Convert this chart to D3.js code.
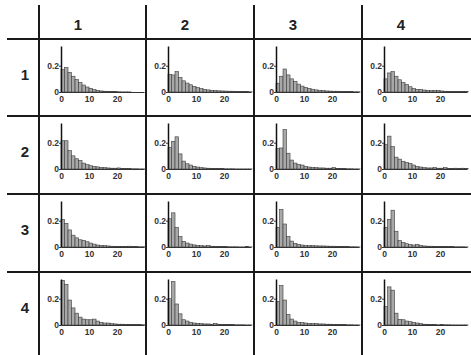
<!DOCTYPE html>
<html>
<head>
<meta charset="utf-8">
<script src="https://cdn.jsdelivr.net/npm/d3@7"></script>
<style>
  html, body { margin: 0; padding: 0; background: #fff; }
  svg { display: block; }
</style>
</head>
<body>
<svg id="chart" width="471" height="355"></svg>
<script>
// labels and ticks
const colLabels = ["1", "2", "3", "4"];
const rowLabels = ["1", "2", "3", "4"];
const xTicks = [0, 10, 20];
const yTicks = [0, 0.2];
const binWidth = 1.25;

// relative frequencies per bin (row r, column c)
const h11 = [0.17, 0.185, 0.15, 0.12, 0.095, 0.072, 0.053, 0.038, 0.028, 0.018, 0.012, 0.008, 0.006, 0.004, 0.003, 0.003, 0.002, 0.001, 0.001, 0.001, 0, 0, 0, 0];
const h12 = [0.135, 0.13, 0.155, 0.11, 0.085, 0.068, 0.055, 0.042, 0.033, 0.026, 0.02, 0.016, 0.013, 0.011, 0.009, 0.008, 0.007, 0.006, 0.006, 0.005, 0.004, 0.003, 0.003, 0.002];
const h13 = [0.067, 0.12, 0.175, 0.13, 0.1, 0.08, 0.06, 0.045, 0.035, 0.027, 0.021, 0.016, 0.012, 0.01, 0.008, 0.007, 0.006, 0.006, 0.005, 0.004, 0.003, 0.003, 0.002, 0.002];
const h14 = [0.1, 0.145, 0.155, 0.12, 0.093, 0.072, 0.058, 0.04, 0.027, 0.02, 0.018, 0.015, 0.012, 0.01, 0.01, 0.012, 0.008, 0.006, 0.005, 0.005, 0.004, 0.004, 0.005, 0.003];
const h21 = [0.215, 0.215, 0.14, 0.1, 0.078, 0.065, 0.045, 0.033, 0.025, 0.02, 0.016, 0.012, 0.01, 0.008, 0.006, 0.006, 0.008, 0.004, 0.003, 0.003, 0.002, 0.002, 0.001, 0.001];
const h22 = [0.165, 0.21, 0.245, 0.115, 0.06, 0.04, 0.03, 0.02, 0.015, 0.01, 0.008, 0.006, 0.005, 0.004, 0.003, 0.003, 0.002, 0.002, 0.002, 0.001, 0.001, 0.001, 0.001, 0.001];
const h23 = [0.155, 0.16, 0.30, 0.12, 0.068, 0.045, 0.035, 0.03, 0.02, 0.015, 0.012, 0.01, 0.008, 0.008, 0.006, 0.006, 0.01, 0.005, 0.003, 0.003, 0.002, 0.002, 0.001, 0.001];
const h24 = [0.185, 0.25, 0.17, 0.09, 0.075, 0.058, 0.05, 0.042, 0.03, 0.02, 0.015, 0.01, 0.008, 0.008, 0.01, 0.006, 0.006, 0.01, 0.005, 0.004, 0.006, 0.004, 0.006, 0.004];
const h31 = [0.21, 0.18, 0.13, 0.09, 0.07, 0.055, 0.05, 0.04, 0.03, 0.022, 0.015, 0.012, 0.01, 0.008, 0.006, 0.005, 0.005, 0.004, 0.004, 0.006, 0.003, 0.003, 0.002, 0.002];
const h32 = [0.215, 0.26, 0.15, 0.08, 0.043, 0.03, 0.022, 0.016, 0.012, 0.01, 0.008, 0.01, 0.006, 0.005, 0.004, 0.003, 0.003, 0.002, 0.002, 0.002, 0.001, 0.001, 0.004, 0.001];
const h33 = [0.15, 0.285, 0.175, 0.08, 0.045, 0.028, 0.02, 0.015, 0.012, 0.01, 0.01, 0.009, 0.008, 0.008, 0.007, 0.006, 0.006, 0.005, 0.005, 0.004, 0.003, 0.002, 0.002, 0.001];
const h34 = [0.15, 0.21, 0.28, 0.12, 0.048, 0.035, 0.025, 0.018, 0.015, 0.02, 0.012, 0.008, 0.006, 0.006, 0.005, 0.005, 0.004, 0.004, 0.003, 0.003, 0.002, 0.002, 0.002, 0.001];
const h41 = [0.34, 0.31, 0.19, 0.13, 0.09, 0.06, 0.045, 0.04, 0.04, 0.045, 0.03, 0.02, 0.015, 0.015, 0.01, 0.008, 0.006, 0.006, 0.005, 0.004, 0.004, 0.003, 0.003, 0.002];
const h42 = [0.2, 0.33, 0.16, 0.085, 0.04, 0.03, 0.02, 0.015, 0.012, 0.01, 0.008, 0.008, 0.006, 0.012, 0.006, 0.004, 0.004, 0.003, 0.003, 0.002, 0.002, 0.002, 0.001, 0.001];
const h43 = [0.18, 0.30, 0.19, 0.08, 0.045, 0.03, 0.02, 0.018, 0.015, 0.012, 0.01, 0.01, 0.008, 0.008, 0.006, 0.006, 0.005, 0.004, 0.003, 0.003, 0.002, 0.002, 0.001, 0.001];
const h44 = [0.14, 0.29, 0.265, 0.09, 0.043, 0.04, 0.03, 0.025, 0.02, 0.015, 0.01, 0.006, 0.004, 0.003, 0.003, 0.002, 0.003, 0.002, 0.002, 0.001, 0.001, 0.001, 0.001, 0.001];

const grid = [
  [h11, h12, h13, h14],
  [h21, h22, h23, h24],
  [h31, h32, h33, h34],
  [h41, h42, h43, h44]
];

// table layout
const svg = d3.select("#chart");
const colX = [39, 146, 254, 362];
const rowY = [39, 116, 194, 272];
const lineColor = "#1a1a1a";
const font = "'Liberation Sans', Arial, sans-serif";

// table rules
svg.selectAll(".vline").data(colX).join("line")
  .attr("x1", d => d).attr("x2", d => d)
  .attr("y1", 5).attr("y2", 355)
  .attr("stroke", lineColor).attr("stroke-width", 2);
svg.selectAll(".hline").data(rowY).join("line")
  .attr("x1", 7).attr("x2", 471)
  .attr("y1", d => d).attr("y2", d => d)
  .attr("stroke", lineColor).attr("stroke-width", 2);

// headers
svg.selectAll(".colLabel").data(colLabels).join("text")
  .attr("x", (d, i) => colX[i] + 39)
  .attr("y", 25)
  .attr("dy", "0.36em")
  .attr("text-anchor", "middle")
  .attr("font-family", font).attr("font-size", 15).attr("font-weight", "bold")
  .attr("fill", "#222")
  .text(d => d);
svg.selectAll(".rowLabel").data(rowLabels).join("text")
  .attr("x", 25)
  .attr("y", (d, i) => rowY[i] + 36)
  .attr("dy", "0.36em")
  .attr("text-anchor", "middle")
  .attr("font-family", font).attr("font-size", 15).attr("font-weight", "bold")
  .attr("fill", "#222")
  .text(d => d);

// small histograms
const x = d3.scaleLinear().domain([0, 29.6]).range([0, 83]);
const y = d3.scaleLinear().domain([0, 0.35]).range([0, -46]);

grid.forEach((row, r) => {
  row.forEach((vals, c) => {
    const g = svg.append("g")
      .attr("transform", `translate(${colX[c] + 22},${rowY[r] + 53})`);

    g.selectAll("rect").data(vals).join("rect")
      .attr("x", (d, i) => x(i * binWidth))
      .attr("width", x(binWidth) - x(0))
      .attr("y", d => y(d))
      .attr("height", d => y(0) - y(d))
      .attr("fill", "#a8a8a8")
      .attr("stroke", "#3a3a3a")
      .attr("stroke-width", 0.6);

    const xAxis = g.append("g").call(d3.axisBottom(x).tickValues(xTicks)
      .tickSize(0).tickSizeOuter(0).tickPadding(4));
    xAxis.select(".domain").attr("stroke", "#333").attr("stroke-width", 1.2);
    xAxis.selectAll("text").attr("font-family", font).attr("font-size", 8.5)
      .attr("font-weight", "bold").attr("fill", "#333");

    const yAxis = g.append("g").call(d3.axisLeft(y).tickValues(yTicks)
      .tickFormat(d3.format("~g")).tickSize(2).tickSizeOuter(0).tickPadding(0));
    yAxis.select(".domain").attr("stroke", "#111").attr("stroke-width", 1.5);
    yAxis.selectAll(".tick line").attr("stroke", "#333");
    yAxis.selectAll("text").attr("font-family", font).attr("font-size", 8.5)
      .attr("font-weight", "bold").attr("fill", "#333");
  });
});
</script>
</body>
</html>
